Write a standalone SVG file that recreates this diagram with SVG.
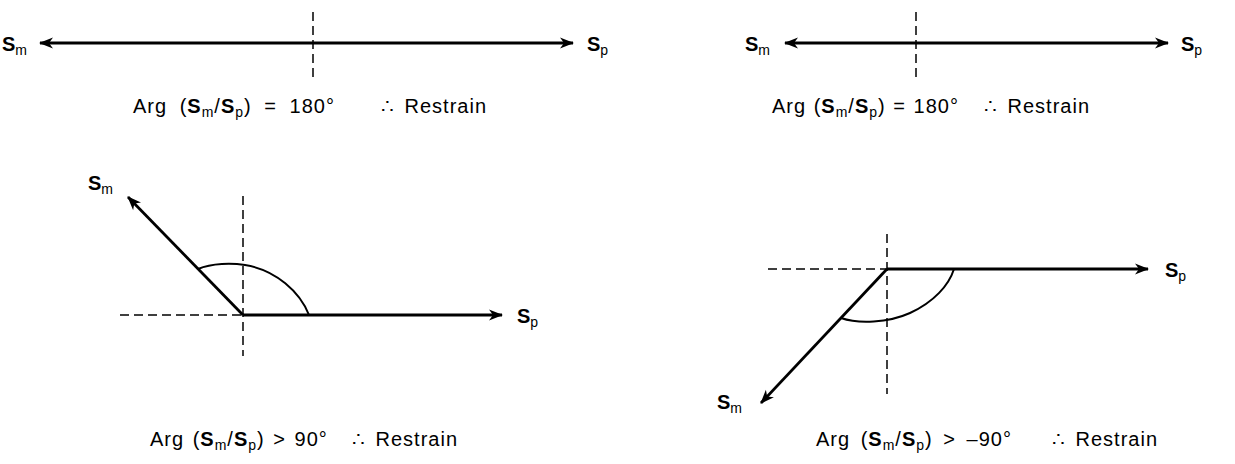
<svg xmlns="http://www.w3.org/2000/svg" width="1235" height="464" viewBox="0 0 1235 464">
<style>
text{font-family:"Liberation Sans",Arial,sans-serif;fill:#000}
.cap{font-size:20px;letter-spacing:1px}
.r{word-spacing:3px}
.lbl{font-size:20px;font-weight:bold}
.b{font-weight:bold}
.sub{font-size:14px;font-weight:normal}
.vec{stroke:#000;stroke-width:2.8;fill:none}
.dash{stroke:#000;stroke-width:1.5;stroke-dasharray:9 5;fill:none}
.arc{stroke:#000;stroke-width:2;fill:none}
</style>
<defs>
<marker id="ah" viewBox="-14 -6 16 12" refX="0" refY="0" markerWidth="16" markerHeight="12" markerUnits="userSpaceOnUse" orient="auto-start-reverse">
<path d="M1,0 L-13,-5.5 L-9,0 L-13,5.5 Z" fill="#000"/>
</marker>
</defs>
<g id="connectors">
<line class="dash" x1="313" y1="12" x2="313" y2="80"/>
<line class="vec" x1="40" y1="43" x2="573" y2="43" marker-start="url(#ah)" marker-end="url(#ah)"/>
<line class="dash" x1="916" y1="12" x2="916" y2="78"/>
<line class="vec" x1="785" y1="43" x2="1168" y2="43" marker-start="url(#ah)" marker-end="url(#ah)"/>
<line class="dash" x1="243" y1="196" x2="243" y2="356"/>
<line class="dash" x1="120" y1="315" x2="243" y2="315"/>
<line class="vec" x1="243" y1="315" x2="502" y2="315" marker-end="url(#ah)"/>
<line class="vec" x1="243" y1="315" x2="128" y2="197" marker-end="url(#ah)"/>
<path class="arc" d="M198,269 C212,263 232,263 245,265 C276,270 300,292 309,315"/>
<line class="dash" x1="887" y1="234" x2="887" y2="394"/>
<line class="dash" x1="768" y1="269" x2="887" y2="269"/>
<line class="vec" x1="887" y1="269" x2="1148" y2="269" marker-end="url(#ah)"/>
<line class="vec" x1="887" y1="269" x2="761" y2="403" marker-end="url(#ah)"/>
<path class="arc" d="M841,318 C858,324 888,323 910,313 C934,302 949,285 954,269"/>
</g>
<g id="p1-sm"><text class="lbl" x="2" y="51">S<tspan class="sub" dy="4">m</tspan></text></g>
<g id="p1-sp"><text class="lbl" x="587" y="51">S<tspan class="sub" dy="4">p</tspan></text></g>
<g id="p1-caption">
<text class="cap" x="133" y="113" style="word-spacing:6px">Arg (<tspan class="b">S</tspan><tspan class="sub" dy="4">m</tspan><tspan dy="-4">/</tspan><tspan class="b">S</tspan><tspan class="sub" dy="4">p</tspan><tspan dy="-4">) = 180°</tspan></text>
<text class="cap r" x="487" y="113" text-anchor="end">∴ Restrain</text>
</g>
<g id="p2-sm"><text class="lbl" x="745" y="51">S<tspan class="sub" dy="4">m</tspan></text></g>
<g id="p2-sp"><text class="lbl" x="1181" y="51">S<tspan class="sub" dy="4">p</tspan></text></g>
<g id="p2-caption">
<text class="cap" x="772" y="113" style="word-spacing:1px">Arg (<tspan class="b">S</tspan><tspan class="sub" dy="4">m</tspan><tspan dy="-4">/</tspan><tspan class="b">S</tspan><tspan class="sub" dy="4">p</tspan><tspan dy="-4">) = 180°</tspan></text>
<text class="cap r" x="1090" y="113" text-anchor="end">∴ Restrain</text>
</g>
<g id="p3-sm"><text class="lbl" x="88" y="190">S<tspan class="sub" dy="4">m</tspan></text></g>
<g id="p3-sp"><text class="lbl" x="517" y="323">S<tspan class="sub" dy="4">p</tspan></text></g>
<g id="p3-caption">
<text class="cap" x="150" y="446" style="word-spacing:2px">Arg (<tspan class="b">S</tspan><tspan class="sub" dy="4">m</tspan><tspan dy="-4">/</tspan><tspan class="b">S</tspan><tspan class="sub" dy="4">p</tspan><tspan dy="-4">) &gt; 90°</tspan></text>
<text class="cap r" x="458" y="446" text-anchor="end">∴ Restrain</text>
</g>
<g id="p4-sm"><text class="lbl" x="717" y="409">S<tspan class="sub" dy="4">m</tspan></text></g>
<g id="p4-sp"><text class="lbl" x="1165" y="277">S<tspan class="sub" dy="4">p</tspan></text></g>
<g id="p4-caption">
<text class="cap" x="816" y="446" style="word-spacing:4px">Arg (<tspan class="b">S</tspan><tspan class="sub" dy="4">m</tspan><tspan dy="-4">/</tspan><tspan class="b">S</tspan><tspan class="sub" dy="4">p</tspan><tspan dy="-4">) &gt; –90°</tspan></text>
<text class="cap r" x="1158" y="446" text-anchor="end">∴ Restrain</text>
</g>
</svg>
